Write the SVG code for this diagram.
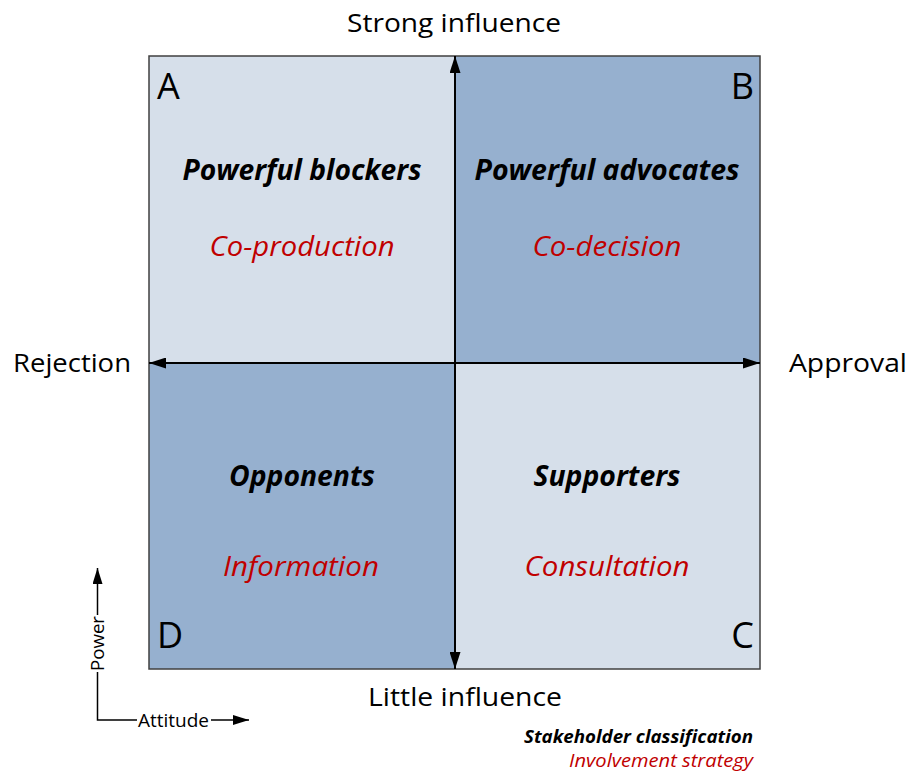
<svg xmlns="http://www.w3.org/2000/svg" width="910" height="773" viewBox="0 0 910 773">
  <style>
    text { font-family: "Open Sans", "Noto Sans", "Liberation Sans", sans-serif; fill: #000; }
    .axis { font-size: 26px; }
    .corner { font-size: 36px; }
    .title { font-size: 28px; font-weight: bold; font-style: italic; text-anchor: middle; }
    .strategy { font-size: 28px; font-style: italic; fill: #C00000; text-anchor: middle; }
    .key { font-size: 18px; }
    .legend-a { font-size: 18px; font-weight: bold; font-style: italic; text-anchor: end; }
    .legend-b { font-size: 18px; font-style: italic; fill: #C00000; text-anchor: end; }
    .light { fill: #D6DFEA; }
    .dark { fill: #96B0CF; }
    .axisline { stroke: #000; stroke-width: 2; fill: none; }
    .keyline { stroke: #000; stroke-width: 1.5; fill: none; }
  </style>
  <defs>
    <marker id="head" markerUnits="userSpaceOnUse" markerWidth="17" markerHeight="11" refX="17" refY="5.5" orient="auto-start-reverse">
      <path d="M0,0 L17,5.5 L0,11 Z" fill="#000"/>
    </marker>
    <marker id="keyhead" markerUnits="userSpaceOnUse" markerWidth="16" markerHeight="10" refX="16" refY="5" orient="auto">
      <path d="M0,0 L16,5 L0,10 Z" fill="#000"/>
    </marker>
  </defs>

  <rect width="910" height="773" fill="#fff"/>

  <!-- quadrants -->
  <g id="quadrant-a">
    <rect class="light" x="149" y="56" width="306" height="307"/>
    <text class="corner" x="157" y="99">A</text>
    <text class="title" x="302" y="180" textLength="239" lengthAdjust="spacingAndGlyphs">Powerful blockers</text>
    <text class="strategy" x="302" y="256" textLength="185" lengthAdjust="spacingAndGlyphs">Co-production</text>
  </g>
  <g id="quadrant-b">
    <rect class="dark" x="455" y="56" width="305" height="307"/>
    <text class="corner" x="754" y="99" text-anchor="end">B</text>
    <text class="title" x="607" y="180" textLength="265" lengthAdjust="spacingAndGlyphs">Powerful advocates</text>
    <text class="strategy" x="607" y="256" textLength="149" lengthAdjust="spacingAndGlyphs">Co-decision</text>
  </g>
  <g id="quadrant-d">
    <rect class="dark" x="149" y="363" width="306" height="306"/>
    <text class="corner" x="157" y="648">D</text>
    <text class="title" x="302" y="486" textLength="146" lengthAdjust="spacingAndGlyphs">Opponents</text>
    <text class="strategy" x="301" y="576" textLength="156" lengthAdjust="spacingAndGlyphs">Information</text>
  </g>
  <g id="quadrant-c">
    <rect class="light" x="455" y="363" width="305" height="306"/>
    <text class="corner" x="754" y="648" text-anchor="end">C</text>
    <text class="title" x="607" y="486" textLength="147" lengthAdjust="spacingAndGlyphs">Supporters</text>
    <text class="strategy" x="607" y="576" textLength="165" lengthAdjust="spacingAndGlyphs">Consultation</text>
  </g>
  <rect x="149" y="56" width="611" height="613" fill="none" stroke="#404040" stroke-width="1.5"/>

  <!-- axes -->
  <g id="connectors">
    <line class="axisline" x1="455" y1="669" x2="455" y2="56" marker-start="url(#head)" marker-end="url(#head)"/>
    <line class="axisline" x1="149" y1="363" x2="760" y2="363" marker-start="url(#head)" marker-end="url(#head)"/>
    <!-- key arrows -->
    <polyline class="keyline" points="97.5,615 97.5,568"  marker-end="url(#keyhead)"/>
    <polyline class="keyline" points="97.5,672 97.5,720 137,720"/>
    <line class="keyline" x1="211" y1="720" x2="249" y2="720" marker-end="url(#keyhead)"/>
  </g>

  <!-- axis labels -->
  <g id="axis-labels">
    <text class="axis" x="454" y="32" text-anchor="middle" textLength="214" lengthAdjust="spacingAndGlyphs">Strong influence</text>
    <text class="axis" x="465" y="706" text-anchor="middle" textLength="194" lengthAdjust="spacingAndGlyphs">Little influence</text>
    <text class="axis" x="13" y="372" textLength="118" lengthAdjust="spacingAndGlyphs">Rejection</text>
    <text class="axis" x="789" y="372" textLength="118" lengthAdjust="spacingAndGlyphs">Approval</text>
  </g>

  <!-- key -->
  <g id="key">
    <text class="key" transform="translate(104,643.5) rotate(-90)" text-anchor="middle" textLength="55" lengthAdjust="spacingAndGlyphs">Power</text>
    <text class="key" x="138" y="726.5" textLength="71" lengthAdjust="spacingAndGlyphs">Attitude</text>
  </g>
  <g id="legend">
    <text class="legend-a" x="753" y="743" textLength="229" lengthAdjust="spacingAndGlyphs">Stakeholder classification</text>
    <text class="legend-b" x="753" y="767" textLength="184" lengthAdjust="spacingAndGlyphs">Involvement strategy</text>
  </g>
</svg>
